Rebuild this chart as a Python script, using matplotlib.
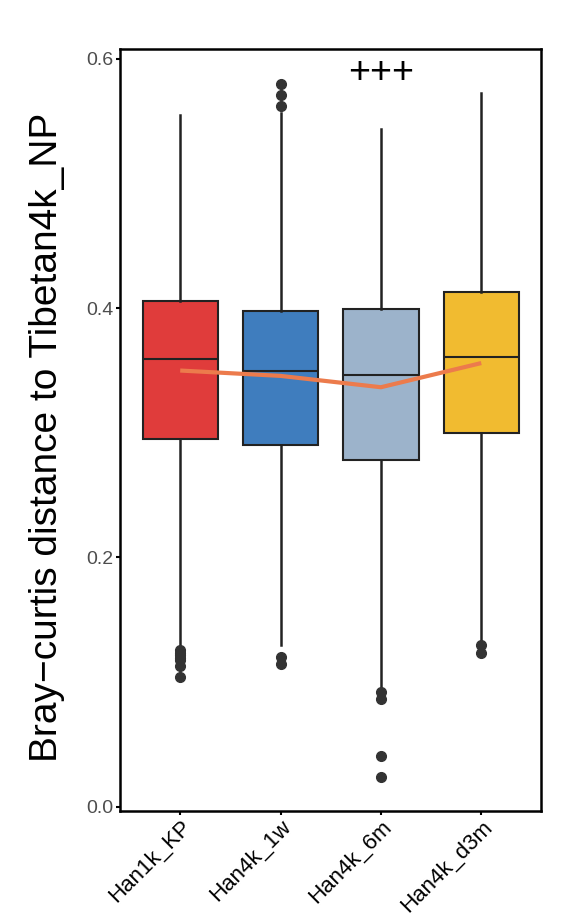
import numpy as np
import matplotlib.pyplot as plt

plt.rcParams['font.family'] = ['Liberation Sans', 'DejaVu Sans']

groups = ['Han1k_KP', 'Han4k_1w', 'Han4k_6m', 'Han4k_d3m']
q1 = [0.295, 0.290, 0.278, 0.300]
med = [0.359, 0.350, 0.3465, 0.361]
q3 = [0.406, 0.398, 0.399, 0.413]
whis_lo = [0.127, 0.130, 0.097, 0.134]
whis_hi = [0.555, 0.5565, 0.544, 0.5726]
outliers = [
    [0.1257, 0.1237, 0.1217, 0.1197, 0.1177, 0.113, 0.104],
    [0.580, 0.571, 0.5626, 0.1204, 0.1145],
    [0.0923, 0.0862, 0.0407, 0.024],
    [0.1298, 0.1236],
]
means = [0.350, 0.3457, 0.3366, 0.356]
colors = ['#E03C3B', '#3F7DBE', '#9CB3CB', '#F1BB30']

stats = []
for i in range(len(groups)):
    stats.append(dict(med=med[i], q1=q1[i], q3=q3[i], whislo=whis_lo[i],
                      whishi=whis_hi[i], fliers=outliers[i]))

fig = plt.figure(figsize=(5.61, 9.18), dpi=100)
ax = fig.add_axes([0.2139, 0.1169, 0.9652 - 0.2139, 0.9466 - 0.1169])

pos = np.arange(1, len(groups) + 1)
bp = ax.bxp(stats, positions=pos, widths=0.75, patch_artist=True, showcaps=False,
            boxprops=dict(edgecolor='#222222', linewidth=1.5),
            medianprops=dict(color='#222222', linewidth=1.5),
            whiskerprops=dict(color='#222222', linewidth=1.8),
            flierprops=dict(marker='o', markerfacecolor='#333333', markeredgecolor='#333333',
                            markersize=7))
for patch, c in zip(bp['boxes'], colors):
    patch.set_facecolor(c)

ax.plot(pos, means, color='#EC7B4C', linewidth=3, solid_capstyle='butt', zorder=5)

ax.text(3.0, 0.589, '+++', fontsize=27, ha='center', va='center', color='black')

ax.set_xlim(0.4, 4.6)
ax.set_ylim(-0.0032, 0.608)
ax.set_yticks([0.0, 0.2, 0.4, 0.6])
ax.set_yticklabels(['0.0', '0.2', '0.4', '0.6'])
ax.set_xticks(pos)
ax.set_xticklabels(groups, rotation=45, ha='right', rotation_mode='anchor', fontsize=16)
ax.tick_params(axis='y', labelsize=14, labelcolor='#4D4D4D', length=3, width=1.5, pad=2)
ax.tick_params(axis='x', length=3, width=1.5, pad=1)
for s in ax.spines.values():
    s.set_linewidth(1.8)
ax.set_ylabel('Bray\u2212curtis distance to Tibetan4k_NP', fontsize=28)
ax.yaxis.set_label_coords(-0.13, 0.49)

fig.savefig('out.png', dpi=100)
